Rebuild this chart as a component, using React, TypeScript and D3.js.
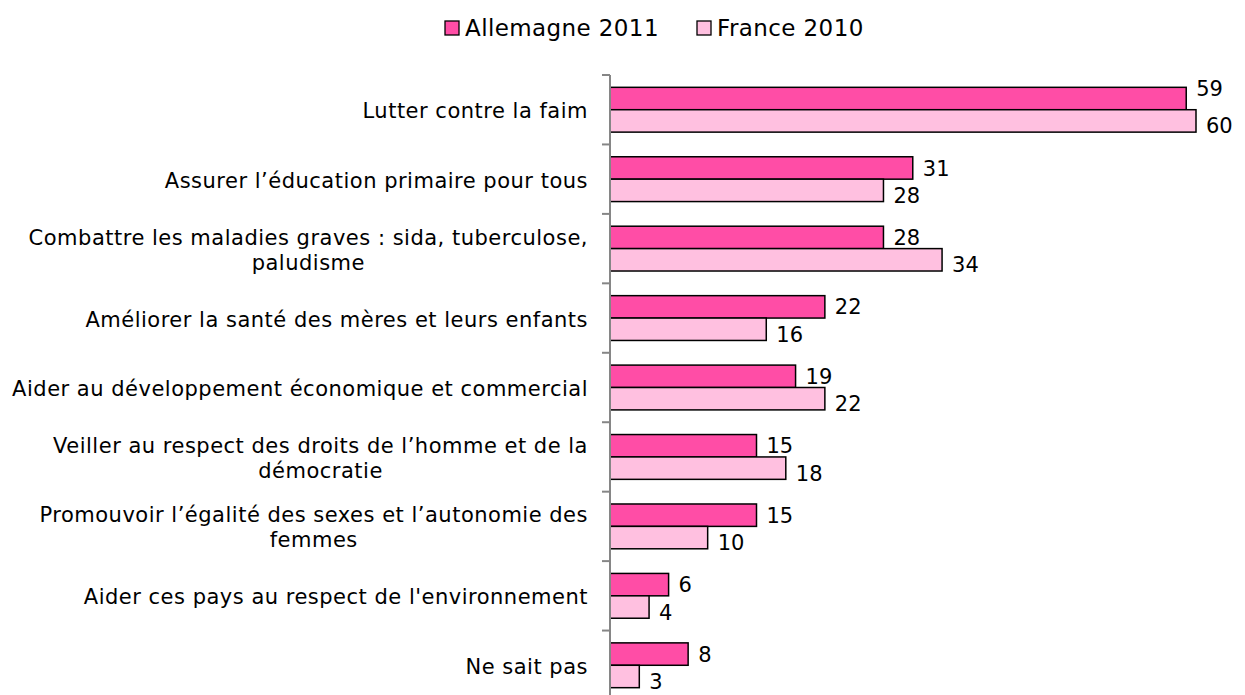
import React, { useRef, useEffect } from "react";
import * as d3 from "d3";

const categories = [
  "Lutter contre la faim",
  "Assurer l’éducation primaire pour tous",
  "Combattre les maladies graves : sida, tuberculose,|paludisme",
  "Améliorer la santé des mères et leurs enfants",
  "Aider au développement économique et commercial",
  "Veiller au respect des droits de l’homme et de la|démocratie",
  "Promouvoir l’égalité des sexes et l’autonomie des|femmes",
  "Aider ces pays au respect de l'environnement",
  "Ne sait pas",
];
const allemagne2011 = [59, 31, 28, 22, 19, 15, 15, 6, 8];
const france2010 = [60, 28, 34, 16, 22, 18, 10, 4, 3];
const seriesNames = ["Allemagne 2011", "France 2010"];
const colors = ["#FF4DA6", "#FFC0E0"];

const W = 1245,
  H = 695;
const FONT = "Verdana, 'DejaVu Sans', sans-serif";

const App = () => {
  const ref = useRef<SVGSVGElement>(null);

  useEffect(() => {
    const svg = d3.select(ref.current);
    svg.selectAll("*").remove();

    const x = d3.scaleLinear().domain([0, 60]).range([610, 1196]);
    const y = d3
      .scaleBand()
      .domain(categories.map((d, i) => String(i)))
      .range([75, 700]);
    const inner = d3
      .scaleBand()
      .domain(["0", "1"])
      .range([0, y.bandwidth()])
      .paddingOuter(0.55)
      .paddingInner(0);

    const series = [allemagne2011, france2010];

    // bars
    series.forEach((vals, s) => {
      svg
        .append("g")
        .selectAll("rect")
        .data(vals)
        .join("rect")
        .attr("x", x(0))
        .attr("y", (d, i) => y(String(i))! + inner(String(s))!)
        .attr("width", (d) => x(d) - x(0))
        .attr("height", inner.bandwidth())
        .attr("fill", colors[s])
        .attr("stroke", "#000")
        .attr("stroke-width", 1.5);

      // labels: first series nudged up a bit on the longest bar, second series a bit lower
      svg
        .append("g")
        .selectAll("text")
        .data(vals)
        .join("text")
        .attr("x", (d) => x(d) + 10)
        .attr(
          "y",
          (d, i) =>
            y(String(i))! +
            inner(String(s))! +
            inner.bandwidth() / 2 +
            (s === 1 ? 5 : i === 0 ? -10 : 0)
        )
        .attr("dy", "0.36em")
        .attr("font-family", FONT)
        .attr("font-size", 21)
        .attr("fill", "#000")
        .text((d) => d);
    });

    // axis
    const axis = svg.append("g").attr("transform", `translate(${x(0)},0)`);
    axis
      .append("line")
      .attr("y1", 75)
      .attr("y2", 700)
      .attr("stroke", "#868686")
      .attr("stroke-width", 2);
    axis
      .selectAll("line.tick")
      .data(categories.map((d, i) => i))
      .join("line")
      .attr("class", "tick")
      .attr("x1", -8)
      .attr("x2", 0)
      .attr("y1", (i) => y(String(i))!)
      .attr("y2", (i) => y(String(i))!)
      .attr("stroke", "#868686")
      .attr("stroke-width", 2);

    // category labels
    const right = 588;
    categories.forEach((c, i) => {
      const lines = c.split("|");
      const cy = y(String(i))! + y.bandwidth() / 2 + 1;
      const t = svg
        .append("text")
        .attr("font-family", FONT)
        .attr("font-size", 21)
        .attr("letter-spacing", 0.5)
        .attr("fill", "#000");
      lines.forEach((l, k) => {
        t.append("tspan")
          .attr("y", cy + (k - (lines.length - 1) / 2) * 25)
          .attr("dy", "0.36em")
          .text(l);
      });
      let maxW = 0;
      t.selectAll<SVGTSpanElement, unknown>("tspan").each(function () {
        maxW = Math.max(maxW, this.getComputedTextLength());
      });
      t.attr("text-anchor", "middle")
        .selectAll("tspan")
        .attr("x", right - maxW / 2);
    });

    // legend
    const legendX = [445, 697];
    seriesNames.forEach((n, s) => {
      const g = svg
        .append("g")
        .attr("transform", `translate(${legendX[s]},21)`);
      g.append("rect")
        .attr("width", 14)
        .attr("height", 14)
        .attr("fill", colors[s])
        .attr("stroke", "#000")
        .attr("stroke-width", 1.3);
      g.append("text")
        .attr("x", 20)
        .attr("y", 7)
        .attr("dy", "0.36em")
        .attr("font-family", FONT)
        .attr("font-size", 23)
        .attr("letter-spacing", 0.4)
        .text(n);
    });
  }, []);

  return (
    <svg
      ref={ref}
      width={W}
      height={H}
      style={{ position: "absolute", left: 0, top: 0, background: "#fff" }}
    ></svg>
  );
};

export default App;
